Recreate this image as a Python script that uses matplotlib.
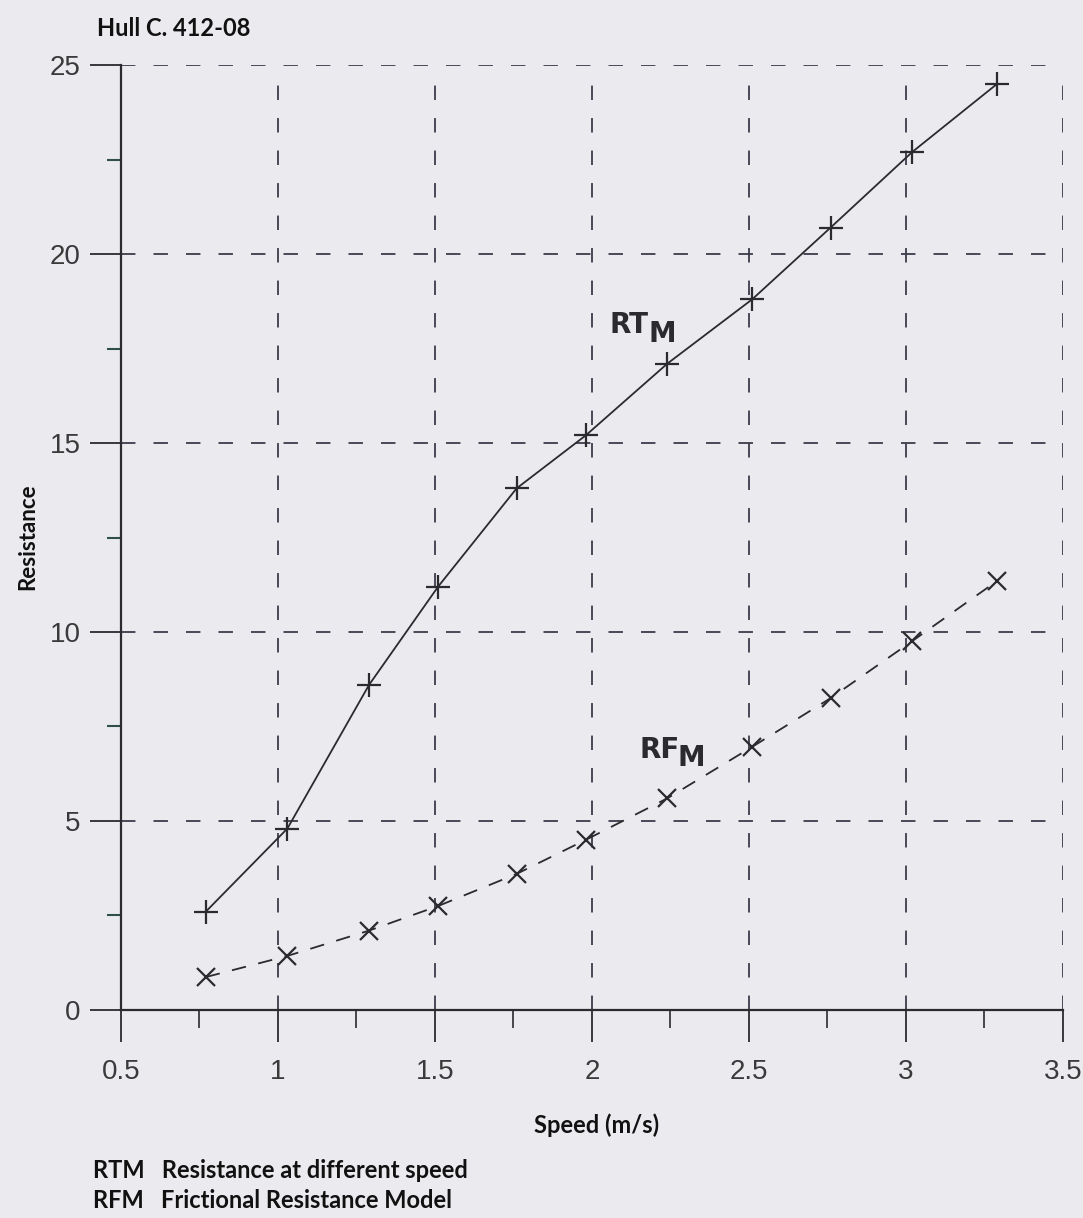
import matplotlib
matplotlib.use('Agg')
import matplotlib.pyplot as plt
from matplotlib.ticker import FixedLocator

# data
speed = [0.77, 1.03, 1.29, 1.51, 1.76, 1.98, 2.24, 2.51, 2.76, 3.02, 3.29]
rtm = [2.6, 4.8, 8.6, 11.2, 13.8, 15.2, 17.1, 18.8, 20.7, 22.7, 24.5]
rfm = [0.87, 1.43, 2.1, 2.75, 3.6, 4.5, 5.6, 6.96, 8.25, 9.76, 11.35]

x_ticks = [0.5, 1, 1.5, 2, 2.5, 3, 3.5]
x_ticklabels = ['0.5', '1', '1.5', '2', '2.5', '3', '3.5']
y_ticks = [0, 5, 10, 15, 20, 25]

bg = '#ebeaef'
ink = '#2b2b2f'
grid_col = '#3c3c4a'

fig = plt.figure(figsize=(10.83, 12.18), dpi=100, facecolor=bg)
ax = fig.add_axes([0.1117, 0.1708, 0.8698, 0.7758])
ax.set_facecolor(bg)

ax.set_xlim(0.5, 3.5)
ax.set_ylim(0, 25)

# dashed grid (skip the lines lying on the axes)
for gx in x_ticks[1:]:
    ax.axvline(gx, ymin=0, ymax=0.985, color=grid_col, lw=1.3,
               linestyle=(0, (8, 10)), zorder=1)
for gy in y_ticks[1:]:
    ax.axhline(gy, xmin=0, xmax=1, color=grid_col, lw=1.3,
               linestyle=(0, (8, 10)), zorder=1)

# curves
ax.plot(speed, rtm, color=ink, lw=1.3, marker='+', markersize=17,
        markeredgewidth=1.6, zorder=3)
ax.plot(speed, rfm, color=ink, lw=1.3, linestyle=(0, (8, 7)), marker='x',
        markersize=13, markeredgewidth=1.6, zorder=3)

# curve labels
lab_kw = dict(fontsize=20, fontweight='bold', color=ink, family='DejaVu Sans',
              ha='left', va='baseline')
ax.text(2.057, 17.9, 'RT', **lab_kw)
ax.annotate('M', xy=(2.057, 17.9), xytext=(28, -6), textcoords='offset points', **lab_kw)
ax.text(2.15, 6.67, 'RF', **lab_kw)
ax.annotate('M', xy=(2.15, 6.67), xytext=(28, -6), textcoords='offset points', **lab_kw)

# axes and ticks
for s in ['top', 'right']:
    ax.spines[s].set_visible(False)
for s in ['left', 'bottom']:
    ax.spines[s].set_color(ink)
    ax.spines[s].set_linewidth(1.6)
    ax.spines[s].set_zorder(4)

ax.set_xticks(x_ticks)
ax.set_xticklabels(x_ticklabels)
ax.set_yticks(y_ticks)
ax.xaxis.set_minor_locator(FixedLocator([0.75, 1.25, 1.75, 2.25, 2.75, 3.25]))
ax.yaxis.set_minor_locator(FixedLocator([2.5, 7.5, 12.5, 17.5, 22.5]))

ax.tick_params(axis='x', which='major', direction='out', length=23, width=1.3,
               color=ink, pad=12, labelsize=20, labelcolor='#3a3a3a')
ax.tick_params(axis='y', which='major', direction='out', length=22, width=1.3,
               color=ink, pad=7, labelsize=20, labelcolor='#3a3a3a')
ax.tick_params(axis='x', which='minor', direction='out', length=13, width=1.2, color=ink)
ax.tick_params(axis='y', which='minor', direction='out', length=10, width=1.5, color='#2f4f48')
for lab in ax.get_xticklabels() + ax.get_yticklabels():
    lab.set_family('Liberation Sans')

# texts around the plot
txt_kw = dict(fontweight='bold', family='Lato', color='#111111')
fig.text(97 / 1083, 1 - 28 / 1218, 'Hull C. 412-08', fontsize=17,
         ha='left', va='center', **txt_kw)
fig.text(28 / 1083, 1 - 537 / 1218, 'Resistance', fontsize=16,
         ha='center', va='center', rotation=90, **txt_kw)
fig.text(597 / 1083, 1 - 1125 / 1218, 'Speed (m/s)', fontsize=17,
         ha='center', va='center', **txt_kw)
fig.text(93 / 1083, 1 - 1170 / 1218, 'RTM   Resistance at different speed', fontsize=17,
         ha='left', va='center', **txt_kw)
fig.text(93 / 1083, 1 - 1200 / 1218, 'RFM   Frictional Resistance Model', fontsize=17,
         ha='left', va='center', **txt_kw)

fig.savefig('out.png', dpi=100, facecolor=bg)
